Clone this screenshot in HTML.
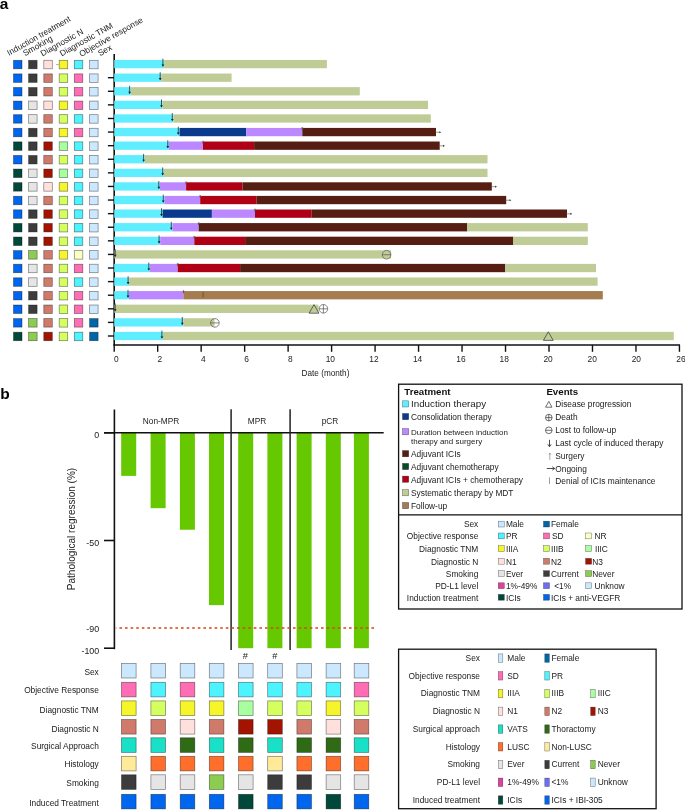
<!DOCTYPE html><html><head><meta charset="utf-8"><style>html,body{margin:0;padding:0;background:#fff;width:685px;height:810px;overflow:hidden;position:relative}</style></head><body><svg width="685" height="810" viewBox="0 0 685 810" style="position:absolute;left:0;top:0;will-change:transform">
<g style='font-family:"Liberation Sans",sans-serif'>
<text x="-0.30" y="8.80" font-size="15.5" text-anchor="start" font-weight="bold" fill="#000" >a</text>
<text x="9.00" y="56.00" font-size="8.4" text-anchor="start" font-weight="normal" fill="#1a1a1a" transform="rotate(-29.5 9.0 56.0)">Induction treatment</text>
<text x="25.00" y="56.30" font-size="8.4" text-anchor="start" font-weight="normal" fill="#1a1a1a" transform="rotate(-29.5 25.0 56.3)">Smoking</text>
<text x="42.60" y="56.60" font-size="8.4" text-anchor="start" font-weight="normal" fill="#1a1a1a" transform="rotate(-29.5 42.6 56.6)">Diagnostic N</text>
<text x="61.80" y="56.60" font-size="8.4" text-anchor="start" font-weight="normal" fill="#1a1a1a" transform="rotate(-29.5 61.8 56.6)">Diagnostic TNM</text>
<text x="81.20" y="57.00" font-size="8.4" text-anchor="start" font-weight="normal" fill="#1a1a1a" transform="rotate(-29.5 81.2 57.0)">Objective response</text>
<text x="100.00" y="56.20" font-size="8.4" text-anchor="start" font-weight="normal" fill="#1a1a1a" transform="rotate(-29.5 100 56.2)">Sex</text>
<rect x="13.50" y="60.30" width="8.50" height="8.50" fill="#0066EE" stroke="rgba(0,0,0,0.5)" stroke-width="0.7"/>
<rect x="28.60" y="60.30" width="8.50" height="8.50" fill="#3C3C3C" stroke="rgba(0,0,0,0.5)" stroke-width="0.7"/>
<rect x="43.80" y="60.30" width="8.50" height="8.50" fill="#FFE0DC" stroke="rgba(0,0,0,0.5)" stroke-width="0.7"/>
<rect x="59.20" y="60.30" width="8.50" height="8.50" fill="#F5F52A" stroke="rgba(0,0,0,0.5)" stroke-width="0.7"/>
<rect x="74.30" y="60.30" width="8.50" height="8.50" fill="#4DF4FF" stroke="rgba(0,0,0,0.5)" stroke-width="0.7"/>
<rect x="89.60" y="60.30" width="8.50" height="8.50" fill="#CCE8FF" stroke="rgba(0,0,0,0.5)" stroke-width="0.7"/>
<rect x="13.50" y="73.89" width="8.50" height="8.50" fill="#0066EE" stroke="rgba(0,0,0,0.5)" stroke-width="0.7"/>
<rect x="28.60" y="73.89" width="8.50" height="8.50" fill="#3C3C3C" stroke="rgba(0,0,0,0.5)" stroke-width="0.7"/>
<rect x="43.80" y="73.89" width="8.50" height="8.50" fill="#D07A6C" stroke="rgba(0,0,0,0.5)" stroke-width="0.7"/>
<rect x="59.20" y="73.89" width="8.50" height="8.50" fill="#D4FF5E" stroke="rgba(0,0,0,0.5)" stroke-width="0.7"/>
<rect x="74.30" y="73.89" width="8.50" height="8.50" fill="#FF6EB4" stroke="rgba(0,0,0,0.5)" stroke-width="0.7"/>
<rect x="89.60" y="73.89" width="8.50" height="8.50" fill="#CCE8FF" stroke="rgba(0,0,0,0.5)" stroke-width="0.7"/>
<rect x="13.50" y="87.49" width="8.50" height="8.50" fill="#0066EE" stroke="rgba(0,0,0,0.5)" stroke-width="0.7"/>
<rect x="28.60" y="87.49" width="8.50" height="8.50" fill="#3C3C3C" stroke="rgba(0,0,0,0.5)" stroke-width="0.7"/>
<rect x="43.80" y="87.49" width="8.50" height="8.50" fill="#D07A6C" stroke="rgba(0,0,0,0.5)" stroke-width="0.7"/>
<rect x="59.20" y="87.49" width="8.50" height="8.50" fill="#D4FF5E" stroke="rgba(0,0,0,0.5)" stroke-width="0.7"/>
<rect x="74.30" y="87.49" width="8.50" height="8.50" fill="#FF6EB4" stroke="rgba(0,0,0,0.5)" stroke-width="0.7"/>
<rect x="89.60" y="87.49" width="8.50" height="8.50" fill="#CCE8FF" stroke="rgba(0,0,0,0.5)" stroke-width="0.7"/>
<rect x="13.50" y="101.08" width="8.50" height="8.50" fill="#0066EE" stroke="rgba(0,0,0,0.5)" stroke-width="0.7"/>
<rect x="28.60" y="101.08" width="8.50" height="8.50" fill="#E5E5E5" stroke="rgba(0,0,0,0.5)" stroke-width="0.7"/>
<rect x="43.80" y="101.08" width="8.50" height="8.50" fill="#FFE0DC" stroke="rgba(0,0,0,0.5)" stroke-width="0.7"/>
<rect x="59.20" y="101.08" width="8.50" height="8.50" fill="#F5F52A" stroke="rgba(0,0,0,0.5)" stroke-width="0.7"/>
<rect x="74.30" y="101.08" width="8.50" height="8.50" fill="#FF6EB4" stroke="rgba(0,0,0,0.5)" stroke-width="0.7"/>
<rect x="89.60" y="101.08" width="8.50" height="8.50" fill="#CCE8FF" stroke="rgba(0,0,0,0.5)" stroke-width="0.7"/>
<rect x="13.50" y="114.68" width="8.50" height="8.50" fill="#0066EE" stroke="rgba(0,0,0,0.5)" stroke-width="0.7"/>
<rect x="28.60" y="114.68" width="8.50" height="8.50" fill="#E5E5E5" stroke="rgba(0,0,0,0.5)" stroke-width="0.7"/>
<rect x="43.80" y="114.68" width="8.50" height="8.50" fill="#D07A6C" stroke="rgba(0,0,0,0.5)" stroke-width="0.7"/>
<rect x="59.20" y="114.68" width="8.50" height="8.50" fill="#D4FF5E" stroke="rgba(0,0,0,0.5)" stroke-width="0.7"/>
<rect x="74.30" y="114.68" width="8.50" height="8.50" fill="#4DF4FF" stroke="rgba(0,0,0,0.5)" stroke-width="0.7"/>
<rect x="89.60" y="114.68" width="8.50" height="8.50" fill="#CCE8FF" stroke="rgba(0,0,0,0.5)" stroke-width="0.7"/>
<rect x="13.50" y="128.27" width="8.50" height="8.50" fill="#0066EE" stroke="rgba(0,0,0,0.5)" stroke-width="0.7"/>
<rect x="28.60" y="128.27" width="8.50" height="8.50" fill="#3C3C3C" stroke="rgba(0,0,0,0.5)" stroke-width="0.7"/>
<rect x="43.80" y="128.27" width="8.50" height="8.50" fill="#D07A6C" stroke="rgba(0,0,0,0.5)" stroke-width="0.7"/>
<rect x="59.20" y="128.27" width="8.50" height="8.50" fill="#F5F52A" stroke="rgba(0,0,0,0.5)" stroke-width="0.7"/>
<rect x="74.30" y="128.27" width="8.50" height="8.50" fill="#FF6EB4" stroke="rgba(0,0,0,0.5)" stroke-width="0.7"/>
<rect x="89.60" y="128.27" width="8.50" height="8.50" fill="#CCE8FF" stroke="rgba(0,0,0,0.5)" stroke-width="0.7"/>
<rect x="13.50" y="141.87" width="8.50" height="8.50" fill="#00483A" stroke="rgba(0,0,0,0.5)" stroke-width="0.7"/>
<rect x="28.60" y="141.87" width="8.50" height="8.50" fill="#3C3C3C" stroke="rgba(0,0,0,0.5)" stroke-width="0.7"/>
<rect x="43.80" y="141.87" width="8.50" height="8.50" fill="#A31400" stroke="rgba(0,0,0,0.5)" stroke-width="0.7"/>
<rect x="59.20" y="141.87" width="8.50" height="8.50" fill="#A8FF9F" stroke="rgba(0,0,0,0.5)" stroke-width="0.7"/>
<rect x="74.30" y="141.87" width="8.50" height="8.50" fill="#4DF4FF" stroke="rgba(0,0,0,0.5)" stroke-width="0.7"/>
<rect x="89.60" y="141.87" width="8.50" height="8.50" fill="#CCE8FF" stroke="rgba(0,0,0,0.5)" stroke-width="0.7"/>
<rect x="13.50" y="155.46" width="8.50" height="8.50" fill="#0066EE" stroke="rgba(0,0,0,0.5)" stroke-width="0.7"/>
<rect x="28.60" y="155.46" width="8.50" height="8.50" fill="#3C3C3C" stroke="rgba(0,0,0,0.5)" stroke-width="0.7"/>
<rect x="43.80" y="155.46" width="8.50" height="8.50" fill="#D07A6C" stroke="rgba(0,0,0,0.5)" stroke-width="0.7"/>
<rect x="59.20" y="155.46" width="8.50" height="8.50" fill="#D4FF5E" stroke="rgba(0,0,0,0.5)" stroke-width="0.7"/>
<rect x="74.30" y="155.46" width="8.50" height="8.50" fill="#4DF4FF" stroke="rgba(0,0,0,0.5)" stroke-width="0.7"/>
<rect x="89.60" y="155.46" width="8.50" height="8.50" fill="#CCE8FF" stroke="rgba(0,0,0,0.5)" stroke-width="0.7"/>
<rect x="13.50" y="169.06" width="8.50" height="8.50" fill="#00483A" stroke="rgba(0,0,0,0.5)" stroke-width="0.7"/>
<rect x="28.60" y="169.06" width="8.50" height="8.50" fill="#E5E5E5" stroke="rgba(0,0,0,0.5)" stroke-width="0.7"/>
<rect x="43.80" y="169.06" width="8.50" height="8.50" fill="#A31400" stroke="rgba(0,0,0,0.5)" stroke-width="0.7"/>
<rect x="59.20" y="169.06" width="8.50" height="8.50" fill="#A8FF9F" stroke="rgba(0,0,0,0.5)" stroke-width="0.7"/>
<rect x="74.30" y="169.06" width="8.50" height="8.50" fill="#4DF4FF" stroke="rgba(0,0,0,0.5)" stroke-width="0.7"/>
<rect x="89.60" y="169.06" width="8.50" height="8.50" fill="#CCE8FF" stroke="rgba(0,0,0,0.5)" stroke-width="0.7"/>
<rect x="13.50" y="182.65" width="8.50" height="8.50" fill="#00483A" stroke="rgba(0,0,0,0.5)" stroke-width="0.7"/>
<rect x="28.60" y="182.65" width="8.50" height="8.50" fill="#E5E5E5" stroke="rgba(0,0,0,0.5)" stroke-width="0.7"/>
<rect x="43.80" y="182.65" width="8.50" height="8.50" fill="#FFE0DC" stroke="rgba(0,0,0,0.5)" stroke-width="0.7"/>
<rect x="59.20" y="182.65" width="8.50" height="8.50" fill="#F5F52A" stroke="rgba(0,0,0,0.5)" stroke-width="0.7"/>
<rect x="74.30" y="182.65" width="8.50" height="8.50" fill="#4DF4FF" stroke="rgba(0,0,0,0.5)" stroke-width="0.7"/>
<rect x="89.60" y="182.65" width="8.50" height="8.50" fill="#CCE8FF" stroke="rgba(0,0,0,0.5)" stroke-width="0.7"/>
<rect x="13.50" y="196.25" width="8.50" height="8.50" fill="#0066EE" stroke="rgba(0,0,0,0.5)" stroke-width="0.7"/>
<rect x="28.60" y="196.25" width="8.50" height="8.50" fill="#E5E5E5" stroke="rgba(0,0,0,0.5)" stroke-width="0.7"/>
<rect x="43.80" y="196.25" width="8.50" height="8.50" fill="#D07A6C" stroke="rgba(0,0,0,0.5)" stroke-width="0.7"/>
<rect x="59.20" y="196.25" width="8.50" height="8.50" fill="#D4FF5E" stroke="rgba(0,0,0,0.5)" stroke-width="0.7"/>
<rect x="74.30" y="196.25" width="8.50" height="8.50" fill="#4DF4FF" stroke="rgba(0,0,0,0.5)" stroke-width="0.7"/>
<rect x="89.60" y="196.25" width="8.50" height="8.50" fill="#CCE8FF" stroke="rgba(0,0,0,0.5)" stroke-width="0.7"/>
<rect x="13.50" y="209.84" width="8.50" height="8.50" fill="#0066EE" stroke="rgba(0,0,0,0.5)" stroke-width="0.7"/>
<rect x="28.60" y="209.84" width="8.50" height="8.50" fill="#3C3C3C" stroke="rgba(0,0,0,0.5)" stroke-width="0.7"/>
<rect x="43.80" y="209.84" width="8.50" height="8.50" fill="#A31400" stroke="rgba(0,0,0,0.5)" stroke-width="0.7"/>
<rect x="59.20" y="209.84" width="8.50" height="8.50" fill="#D4FF5E" stroke="rgba(0,0,0,0.5)" stroke-width="0.7"/>
<rect x="74.30" y="209.84" width="8.50" height="8.50" fill="#4DF4FF" stroke="rgba(0,0,0,0.5)" stroke-width="0.7"/>
<rect x="89.60" y="209.84" width="8.50" height="8.50" fill="#CCE8FF" stroke="rgba(0,0,0,0.5)" stroke-width="0.7"/>
<rect x="13.50" y="223.44" width="8.50" height="8.50" fill="#00483A" stroke="rgba(0,0,0,0.5)" stroke-width="0.7"/>
<rect x="28.60" y="223.44" width="8.50" height="8.50" fill="#3C3C3C" stroke="rgba(0,0,0,0.5)" stroke-width="0.7"/>
<rect x="43.80" y="223.44" width="8.50" height="8.50" fill="#A31400" stroke="rgba(0,0,0,0.5)" stroke-width="0.7"/>
<rect x="59.20" y="223.44" width="8.50" height="8.50" fill="#D4FF5E" stroke="rgba(0,0,0,0.5)" stroke-width="0.7"/>
<rect x="74.30" y="223.44" width="8.50" height="8.50" fill="#4DF4FF" stroke="rgba(0,0,0,0.5)" stroke-width="0.7"/>
<rect x="89.60" y="223.44" width="8.50" height="8.50" fill="#CCE8FF" stroke="rgba(0,0,0,0.5)" stroke-width="0.7"/>
<rect x="13.50" y="237.03" width="8.50" height="8.50" fill="#00483A" stroke="rgba(0,0,0,0.5)" stroke-width="0.7"/>
<rect x="28.60" y="237.03" width="8.50" height="8.50" fill="#3C3C3C" stroke="rgba(0,0,0,0.5)" stroke-width="0.7"/>
<rect x="43.80" y="237.03" width="8.50" height="8.50" fill="#A31400" stroke="rgba(0,0,0,0.5)" stroke-width="0.7"/>
<rect x="59.20" y="237.03" width="8.50" height="8.50" fill="#D4FF5E" stroke="rgba(0,0,0,0.5)" stroke-width="0.7"/>
<rect x="74.30" y="237.03" width="8.50" height="8.50" fill="#4DF4FF" stroke="rgba(0,0,0,0.5)" stroke-width="0.7"/>
<rect x="89.60" y="237.03" width="8.50" height="8.50" fill="#CCE8FF" stroke="rgba(0,0,0,0.5)" stroke-width="0.7"/>
<rect x="13.50" y="250.63" width="8.50" height="8.50" fill="#0066EE" stroke="rgba(0,0,0,0.5)" stroke-width="0.7"/>
<rect x="28.60" y="250.63" width="8.50" height="8.50" fill="#8CCC50" stroke="rgba(0,0,0,0.5)" stroke-width="0.7"/>
<rect x="43.80" y="250.63" width="8.50" height="8.50" fill="#D07A6C" stroke="rgba(0,0,0,0.5)" stroke-width="0.7"/>
<rect x="59.20" y="250.63" width="8.50" height="8.50" fill="#F5F52A" stroke="rgba(0,0,0,0.5)" stroke-width="0.7"/>
<rect x="74.30" y="250.63" width="8.50" height="8.50" fill="#FBFFC0" stroke="rgba(0,0,0,0.5)" stroke-width="0.7"/>
<rect x="89.60" y="250.63" width="8.50" height="8.50" fill="#CCE8FF" stroke="rgba(0,0,0,0.5)" stroke-width="0.7"/>
<rect x="13.50" y="264.22" width="8.50" height="8.50" fill="#0066EE" stroke="rgba(0,0,0,0.5)" stroke-width="0.7"/>
<rect x="28.60" y="264.22" width="8.50" height="8.50" fill="#E5E5E5" stroke="rgba(0,0,0,0.5)" stroke-width="0.7"/>
<rect x="43.80" y="264.22" width="8.50" height="8.50" fill="#D07A6C" stroke="rgba(0,0,0,0.5)" stroke-width="0.7"/>
<rect x="59.20" y="264.22" width="8.50" height="8.50" fill="#D4FF5E" stroke="rgba(0,0,0,0.5)" stroke-width="0.7"/>
<rect x="74.30" y="264.22" width="8.50" height="8.50" fill="#FF6EB4" stroke="rgba(0,0,0,0.5)" stroke-width="0.7"/>
<rect x="89.60" y="264.22" width="8.50" height="8.50" fill="#CCE8FF" stroke="rgba(0,0,0,0.5)" stroke-width="0.7"/>
<rect x="13.50" y="277.82" width="8.50" height="8.50" fill="#0066EE" stroke="rgba(0,0,0,0.5)" stroke-width="0.7"/>
<rect x="28.60" y="277.82" width="8.50" height="8.50" fill="#E5E5E5" stroke="rgba(0,0,0,0.5)" stroke-width="0.7"/>
<rect x="43.80" y="277.82" width="8.50" height="8.50" fill="#D07A6C" stroke="rgba(0,0,0,0.5)" stroke-width="0.7"/>
<rect x="59.20" y="277.82" width="8.50" height="8.50" fill="#D4FF5E" stroke="rgba(0,0,0,0.5)" stroke-width="0.7"/>
<rect x="74.30" y="277.82" width="8.50" height="8.50" fill="#4DF4FF" stroke="rgba(0,0,0,0.5)" stroke-width="0.7"/>
<rect x="89.60" y="277.82" width="8.50" height="8.50" fill="#CCE8FF" stroke="rgba(0,0,0,0.5)" stroke-width="0.7"/>
<rect x="13.50" y="291.42" width="8.50" height="8.50" fill="#0066EE" stroke="rgba(0,0,0,0.5)" stroke-width="0.7"/>
<rect x="28.60" y="291.42" width="8.50" height="8.50" fill="#3C3C3C" stroke="rgba(0,0,0,0.5)" stroke-width="0.7"/>
<rect x="43.80" y="291.42" width="8.50" height="8.50" fill="#D07A6C" stroke="rgba(0,0,0,0.5)" stroke-width="0.7"/>
<rect x="59.20" y="291.42" width="8.50" height="8.50" fill="#D4FF5E" stroke="rgba(0,0,0,0.5)" stroke-width="0.7"/>
<rect x="74.30" y="291.42" width="8.50" height="8.50" fill="#FF6EB4" stroke="rgba(0,0,0,0.5)" stroke-width="0.7"/>
<rect x="89.60" y="291.42" width="8.50" height="8.50" fill="#CCE8FF" stroke="rgba(0,0,0,0.5)" stroke-width="0.7"/>
<rect x="13.50" y="305.01" width="8.50" height="8.50" fill="#0066EE" stroke="rgba(0,0,0,0.5)" stroke-width="0.7"/>
<rect x="28.60" y="305.01" width="8.50" height="8.50" fill="#3C3C3C" stroke="rgba(0,0,0,0.5)" stroke-width="0.7"/>
<rect x="43.80" y="305.01" width="8.50" height="8.50" fill="#D07A6C" stroke="rgba(0,0,0,0.5)" stroke-width="0.7"/>
<rect x="59.20" y="305.01" width="8.50" height="8.50" fill="#D4FF5E" stroke="rgba(0,0,0,0.5)" stroke-width="0.7"/>
<rect x="74.30" y="305.01" width="8.50" height="8.50" fill="#FF6EB4" stroke="rgba(0,0,0,0.5)" stroke-width="0.7"/>
<rect x="89.60" y="305.01" width="8.50" height="8.50" fill="#CCE8FF" stroke="rgba(0,0,0,0.5)" stroke-width="0.7"/>
<rect x="13.50" y="318.60" width="8.50" height="8.50" fill="#0066EE" stroke="rgba(0,0,0,0.5)" stroke-width="0.7"/>
<rect x="28.60" y="318.60" width="8.50" height="8.50" fill="#8CCC50" stroke="rgba(0,0,0,0.5)" stroke-width="0.7"/>
<rect x="43.80" y="318.60" width="8.50" height="8.50" fill="#D07A6C" stroke="rgba(0,0,0,0.5)" stroke-width="0.7"/>
<rect x="59.20" y="318.60" width="8.50" height="8.50" fill="#D4FF5E" stroke="rgba(0,0,0,0.5)" stroke-width="0.7"/>
<rect x="74.30" y="318.60" width="8.50" height="8.50" fill="#FF6EB4" stroke="rgba(0,0,0,0.5)" stroke-width="0.7"/>
<rect x="89.60" y="318.60" width="8.50" height="8.50" fill="#0066AA" stroke="rgba(0,0,0,0.5)" stroke-width="0.7"/>
<rect x="13.50" y="332.20" width="8.50" height="8.50" fill="#00483A" stroke="rgba(0,0,0,0.5)" stroke-width="0.7"/>
<rect x="28.60" y="332.20" width="8.50" height="8.50" fill="#8CCC50" stroke="rgba(0,0,0,0.5)" stroke-width="0.7"/>
<rect x="43.80" y="332.20" width="8.50" height="8.50" fill="#A31400" stroke="rgba(0,0,0,0.5)" stroke-width="0.7"/>
<rect x="59.20" y="332.20" width="8.50" height="8.50" fill="#D4FF5E" stroke="rgba(0,0,0,0.5)" stroke-width="0.7"/>
<rect x="74.30" y="332.20" width="8.50" height="8.50" fill="#4DF4FF" stroke="rgba(0,0,0,0.5)" stroke-width="0.7"/>
<rect x="89.60" y="332.20" width="8.50" height="8.50" fill="#0066AA" stroke="rgba(0,0,0,0.5)" stroke-width="0.7"/>
<line x1="56.00" y1="64.60" x2="58.80" y2="64.60" stroke="#888" stroke-width="0.7"/>
<line x1="114.20" y1="54.00" x2="114.20" y2="345.60" stroke="#111" stroke-width="1.6"/>
<line x1="113.40" y1="345.00" x2="680.00" y2="345.00" stroke="#111" stroke-width="1.6"/>
<line x1="107.90" y1="77.69" x2="114.20" y2="77.69" stroke="#111" stroke-width="1.4"/>
<line x1="107.90" y1="91.29" x2="114.20" y2="91.29" stroke="#111" stroke-width="1.4"/>
<line x1="107.90" y1="104.88" x2="114.20" y2="104.88" stroke="#111" stroke-width="1.4"/>
<line x1="107.90" y1="118.48" x2="114.20" y2="118.48" stroke="#111" stroke-width="1.4"/>
<line x1="107.90" y1="132.07" x2="114.20" y2="132.07" stroke="#111" stroke-width="1.4"/>
<line x1="107.90" y1="145.67" x2="114.20" y2="145.67" stroke="#111" stroke-width="1.4"/>
<line x1="107.90" y1="159.26" x2="114.20" y2="159.26" stroke="#111" stroke-width="1.4"/>
<line x1="107.90" y1="172.86" x2="114.20" y2="172.86" stroke="#111" stroke-width="1.4"/>
<line x1="107.90" y1="186.45" x2="114.20" y2="186.45" stroke="#111" stroke-width="1.4"/>
<line x1="107.90" y1="200.05" x2="114.20" y2="200.05" stroke="#111" stroke-width="1.4"/>
<line x1="107.90" y1="213.65" x2="114.20" y2="213.65" stroke="#111" stroke-width="1.4"/>
<line x1="107.90" y1="227.24" x2="114.20" y2="227.24" stroke="#111" stroke-width="1.4"/>
<line x1="107.90" y1="240.84" x2="114.20" y2="240.84" stroke="#111" stroke-width="1.4"/>
<line x1="107.90" y1="254.43" x2="114.20" y2="254.43" stroke="#111" stroke-width="1.4"/>
<line x1="107.90" y1="268.02" x2="114.20" y2="268.02" stroke="#111" stroke-width="1.4"/>
<line x1="107.90" y1="281.62" x2="114.20" y2="281.62" stroke="#111" stroke-width="1.4"/>
<line x1="107.90" y1="295.22" x2="114.20" y2="295.22" stroke="#111" stroke-width="1.4"/>
<line x1="107.90" y1="308.81" x2="114.20" y2="308.81" stroke="#111" stroke-width="1.4"/>
<line x1="107.90" y1="322.40" x2="114.20" y2="322.40" stroke="#111" stroke-width="1.4"/>
<line x1="107.90" y1="336.00" x2="114.20" y2="336.00" stroke="#111" stroke-width="1.4"/>
<line x1="114.20" y1="345.00" x2="114.20" y2="351.80" stroke="#111" stroke-width="1.4"/>
<text x="116.30" y="362.20" font-size="8.4" text-anchor="middle" font-weight="normal" fill="#222" >0</text>
<line x1="157.68" y1="345.00" x2="157.68" y2="351.80" stroke="#111" stroke-width="1.4"/>
<text x="159.78" y="362.20" font-size="8.4" text-anchor="middle" font-weight="normal" fill="#222" >2</text>
<line x1="201.16" y1="345.00" x2="201.16" y2="351.80" stroke="#111" stroke-width="1.4"/>
<text x="203.46" y="362.20" font-size="8.4" text-anchor="middle" font-weight="normal" fill="#222" >4</text>
<line x1="244.64" y1="345.00" x2="244.64" y2="351.80" stroke="#111" stroke-width="1.4"/>
<text x="246.64" y="362.20" font-size="8.4" text-anchor="middle" font-weight="normal" fill="#222" >6</text>
<line x1="288.12" y1="345.00" x2="288.12" y2="351.80" stroke="#111" stroke-width="1.4"/>
<text x="290.32" y="362.20" font-size="8.4" text-anchor="middle" font-weight="normal" fill="#222" >8</text>
<line x1="331.60" y1="345.00" x2="331.60" y2="351.80" stroke="#111" stroke-width="1.4"/>
<text x="330.30" y="362.20" font-size="8.4" text-anchor="middle" font-weight="normal" fill="#222" >10</text>
<line x1="375.08" y1="345.00" x2="375.08" y2="351.80" stroke="#111" stroke-width="1.4"/>
<text x="373.98" y="362.20" font-size="8.4" text-anchor="middle" font-weight="normal" fill="#222" >12</text>
<line x1="418.56" y1="345.00" x2="418.56" y2="351.80" stroke="#111" stroke-width="1.4"/>
<text x="417.56" y="362.20" font-size="8.4" text-anchor="middle" font-weight="normal" fill="#222" >14</text>
<line x1="462.04" y1="345.00" x2="462.04" y2="351.80" stroke="#111" stroke-width="1.4"/>
<text x="460.94" y="362.20" font-size="8.4" text-anchor="middle" font-weight="normal" fill="#222" >16</text>
<line x1="505.52" y1="345.00" x2="505.52" y2="351.80" stroke="#111" stroke-width="1.4"/>
<text x="504.22" y="362.20" font-size="8.4" text-anchor="middle" font-weight="normal" fill="#222" >18</text>
<line x1="549.00" y1="345.00" x2="549.00" y2="351.80" stroke="#111" stroke-width="1.4"/>
<text x="548.10" y="362.20" font-size="8.4" text-anchor="middle" font-weight="normal" fill="#222" >20</text>
<line x1="592.48" y1="345.00" x2="592.48" y2="351.80" stroke="#111" stroke-width="1.4"/>
<text x="592.18" y="362.20" font-size="8.4" text-anchor="middle" font-weight="normal" fill="#222" >20</text>
<line x1="635.96" y1="345.00" x2="635.96" y2="351.80" stroke="#111" stroke-width="1.4"/>
<text x="636.36" y="362.20" font-size="8.4" text-anchor="middle" font-weight="normal" fill="#222" >20</text>
<line x1="679.44" y1="345.00" x2="679.44" y2="351.80" stroke="#111" stroke-width="1.4"/>
<text x="680.94" y="362.20" font-size="8.4" text-anchor="middle" font-weight="normal" fill="#222" >26</text>
<text x="325.50" y="375.70" font-size="8.2" text-anchor="middle" font-weight="normal" fill="#222" >Date (month)</text>
<rect x="114.20" y="59.95" width="49.90" height="8.30" fill="#5EEEFF"/>
<rect x="164.10" y="59.95" width="162.80" height="8.30" fill="#BFCC96"/>
<rect x="114.20" y="73.54" width="47.10" height="8.30" fill="#5EEEFF"/>
<rect x="161.30" y="73.54" width="70.30" height="8.30" fill="#BFCC96"/>
<rect x="114.20" y="87.14" width="16.60" height="8.30" fill="#5EEEFF"/>
<rect x="130.80" y="87.14" width="229.00" height="8.30" fill="#BFCC96"/>
<rect x="114.20" y="100.73" width="48.40" height="8.30" fill="#5EEEFF"/>
<rect x="162.60" y="100.73" width="265.40" height="8.30" fill="#BFCC96"/>
<rect x="114.20" y="114.33" width="59.30" height="8.30" fill="#5EEEFF"/>
<rect x="173.50" y="114.33" width="257.30" height="8.30" fill="#BFCC96"/>
<rect x="114.20" y="127.92" width="65.40" height="8.30" fill="#5EEEFF"/>
<rect x="179.60" y="127.92" width="66.60" height="8.30" fill="#0A3A8E"/>
<rect x="246.20" y="127.92" width="56.10" height="8.30" fill="#BB88FF"/>
<rect x="302.30" y="127.92" width="133.70" height="8.30" fill="#561D12"/>
<rect x="114.20" y="141.52" width="54.80" height="8.30" fill="#5EEEFF"/>
<rect x="169.00" y="141.52" width="34.00" height="8.30" fill="#BB88FF"/>
<rect x="203.00" y="141.52" width="51.10" height="8.30" fill="#B00015"/>
<rect x="254.10" y="141.52" width="185.60" height="8.30" fill="#561D12"/>
<rect x="114.20" y="155.11" width="30.50" height="8.30" fill="#5EEEFF"/>
<rect x="144.70" y="155.11" width="342.80" height="8.30" fill="#BFCC96"/>
<rect x="114.20" y="168.71" width="49.60" height="8.30" fill="#5EEEFF"/>
<rect x="163.80" y="168.71" width="323.70" height="8.30" fill="#BFCC96"/>
<rect x="114.20" y="182.30" width="45.70" height="8.30" fill="#5EEEFF"/>
<rect x="159.90" y="182.30" width="26.20" height="8.30" fill="#BB88FF"/>
<rect x="186.10" y="182.30" width="56.40" height="8.30" fill="#B00015"/>
<rect x="242.50" y="182.30" width="249.30" height="8.30" fill="#561D12"/>
<rect x="114.20" y="195.90" width="50.20" height="8.30" fill="#5EEEFF"/>
<rect x="164.40" y="195.90" width="35.80" height="8.30" fill="#BB88FF"/>
<rect x="200.20" y="195.90" width="56.50" height="8.30" fill="#B00015"/>
<rect x="256.70" y="195.90" width="249.50" height="8.30" fill="#561D12"/>
<rect x="114.20" y="209.50" width="48.40" height="8.30" fill="#5EEEFF"/>
<rect x="162.60" y="209.50" width="49.30" height="8.30" fill="#0A3A8E"/>
<rect x="211.90" y="209.50" width="43.10" height="8.30" fill="#BB88FF"/>
<rect x="255.00" y="209.50" width="56.70" height="8.30" fill="#B00015"/>
<rect x="311.70" y="209.50" width="255.30" height="8.30" fill="#561D12"/>
<rect x="114.20" y="223.09" width="58.20" height="8.30" fill="#5EEEFF"/>
<rect x="172.40" y="223.09" width="26.30" height="8.30" fill="#BB88FF"/>
<rect x="198.70" y="223.09" width="268.60" height="8.30" fill="#561D12"/>
<rect x="467.30" y="223.09" width="120.50" height="8.30" fill="#BFCC96"/>
<rect x="114.20" y="236.69" width="46.00" height="8.30" fill="#5EEEFF"/>
<rect x="160.20" y="236.69" width="34.10" height="8.30" fill="#BB88FF"/>
<rect x="194.30" y="236.69" width="50.80" height="8.30" fill="#B00015"/>
<rect x="245.10" y="236.69" width="268.20" height="8.30" fill="#561D12"/>
<rect x="513.30" y="236.69" width="74.50" height="8.30" fill="#BFCC96"/>
<rect x="114.20" y="250.28" width="0.30" height="8.30" fill="#5EEEFF"/>
<rect x="114.50" y="250.28" width="276.50" height="8.30" fill="#BFCC96"/>
<rect x="114.20" y="263.88" width="35.70" height="8.30" fill="#5EEEFF"/>
<rect x="149.90" y="263.88" width="27.80" height="8.30" fill="#BB88FF"/>
<rect x="177.70" y="263.88" width="62.40" height="8.30" fill="#B00015"/>
<rect x="240.10" y="263.88" width="265.20" height="8.30" fill="#561D12"/>
<rect x="505.30" y="263.88" width="90.70" height="8.30" fill="#BFCC96"/>
<rect x="114.20" y="277.47" width="14.90" height="8.30" fill="#5EEEFF"/>
<rect x="129.10" y="277.47" width="468.50" height="8.30" fill="#BFCC96"/>
<rect x="114.20" y="291.07" width="14.80" height="8.30" fill="#5EEEFF"/>
<rect x="129.00" y="291.07" width="54.40" height="8.30" fill="#BB88FF"/>
<rect x="183.40" y="291.07" width="419.40" height="8.30" fill="#A57B50"/>
<rect x="114.20" y="304.66" width="0.30" height="8.30" fill="#5EEEFF"/>
<rect x="114.50" y="304.66" width="204.00" height="8.30" fill="#BFCC96"/>
<rect x="114.20" y="318.25" width="69.20" height="8.30" fill="#5EEEFF"/>
<rect x="183.40" y="318.25" width="31.10" height="8.30" fill="#BFCC96"/>
<rect x="114.20" y="331.85" width="48.80" height="8.30" fill="#5EEEFF"/>
<rect x="163.00" y="331.85" width="510.80" height="8.30" fill="#BFCC96"/>
<path d="M162.90 58.70 V66.10" stroke="#222" stroke-width="0.75"/>
<path d="M161.50 64.50 L162.90 66.70 L164.30 64.50 Z" fill="#222"/>
<path d="M160.20 72.29 V79.69" stroke="#222" stroke-width="0.75"/>
<path d="M158.80 78.09 L160.20 80.29 L161.60 78.09 Z" fill="#222"/>
<path d="M129.60 85.89 V93.29" stroke="#222" stroke-width="0.75"/>
<path d="M128.20 91.69 L129.60 93.89 L131.00 91.69 Z" fill="#222"/>
<path d="M161.50 99.48 V106.88" stroke="#222" stroke-width="0.75"/>
<path d="M160.10 105.28 L161.50 107.48 L162.90 105.28 Z" fill="#222"/>
<path d="M172.30 113.08 V120.48" stroke="#222" stroke-width="0.75"/>
<path d="M170.90 118.88 L172.30 121.08 L173.70 118.88 Z" fill="#222"/>
<path d="M178.30 126.67 V134.07" stroke="#222" stroke-width="0.75"/>
<path d="M176.90 132.47 L178.30 134.67 L179.70 132.47 Z" fill="#222"/>
<path d="M167.80 140.27 V147.67" stroke="#222" stroke-width="0.75"/>
<path d="M166.40 146.07 L167.80 148.27 L169.20 146.07 Z" fill="#222"/>
<path d="M143.60 153.86 V161.26" stroke="#222" stroke-width="0.75"/>
<path d="M142.20 159.66 L143.60 161.86 L145.00 159.66 Z" fill="#222"/>
<path d="M162.70 167.46 V174.86" stroke="#222" stroke-width="0.75"/>
<path d="M161.30 173.26 L162.70 175.46 L164.10 173.26 Z" fill="#222"/>
<path d="M158.80 181.05 V188.45" stroke="#222" stroke-width="0.75"/>
<path d="M157.40 186.85 L158.80 189.05 L160.20 186.85 Z" fill="#222"/>
<path d="M163.30 194.65 V202.05" stroke="#222" stroke-width="0.75"/>
<path d="M161.90 200.45 L163.30 202.65 L164.70 200.45 Z" fill="#222"/>
<path d="M161.50 208.25 V215.65" stroke="#222" stroke-width="0.75"/>
<path d="M160.10 214.05 L161.50 216.25 L162.90 214.05 Z" fill="#222"/>
<path d="M171.30 221.84 V229.24" stroke="#222" stroke-width="0.75"/>
<path d="M169.90 227.64 L171.30 229.84 L172.70 227.64 Z" fill="#222"/>
<path d="M159.10 235.44 V242.84" stroke="#222" stroke-width="0.75"/>
<path d="M157.70 241.24 L159.10 243.44 L160.50 241.24 Z" fill="#222"/>
<path d="M115.20 249.03 V256.43" stroke="#222" stroke-width="0.75"/>
<path d="M113.80 254.83 L115.20 257.03 L116.60 254.83 Z" fill="#222"/>
<path d="M148.80 262.62 V270.02" stroke="#222" stroke-width="0.75"/>
<path d="M147.40 268.42 L148.80 270.62 L150.20 268.42 Z" fill="#222"/>
<path d="M128.10 276.22 V283.62" stroke="#222" stroke-width="0.75"/>
<path d="M126.70 282.02 L128.10 284.22 L129.50 282.02 Z" fill="#222"/>
<path d="M128.00 289.82 V297.22" stroke="#222" stroke-width="0.75"/>
<path d="M126.60 295.62 L128.00 297.82 L129.40 295.62 Z" fill="#222"/>
<path d="M115.20 303.41 V310.81" stroke="#222" stroke-width="0.75"/>
<path d="M113.80 309.21 L115.20 311.41 L116.60 309.21 Z" fill="#222"/>
<path d="M182.30 317.00 V324.40" stroke="#222" stroke-width="0.75"/>
<path d="M180.90 322.80 L182.30 325.00 L183.70 322.80 Z" fill="#222"/>
<path d="M161.90 330.60 V338.00" stroke="#222" stroke-width="0.75"/>
<path d="M160.50 336.40 L161.90 338.60 L163.30 336.40 Z" fill="#222"/>
<path d="M302.30 130.07 V127.47" stroke="#444" stroke-width="0.8"/>
<path d="M301.10 128.47 L302.30 127.07 L303.50 128.47" fill="none" stroke="#777" stroke-width="0.6"/>
<path d="M203.00 143.67 V141.07" stroke="#444" stroke-width="0.8"/>
<path d="M201.80 142.07 L203.00 140.67 L204.20 142.07" fill="none" stroke="#777" stroke-width="0.6"/>
<path d="M186.10 184.45 V181.85" stroke="#444" stroke-width="0.8"/>
<path d="M184.90 182.85 L186.10 181.45 L187.30 182.85" fill="none" stroke="#777" stroke-width="0.6"/>
<path d="M200.20 198.05 V195.45" stroke="#444" stroke-width="0.8"/>
<path d="M199.00 196.45 L200.20 195.05 L201.40 196.45" fill="none" stroke="#777" stroke-width="0.6"/>
<path d="M255.00 211.65 V209.05" stroke="#444" stroke-width="0.8"/>
<path d="M253.80 210.05 L255.00 208.65 L256.20 210.05" fill="none" stroke="#777" stroke-width="0.6"/>
<path d="M198.70 225.24 V222.64" stroke="#444" stroke-width="0.8"/>
<path d="M197.50 223.64 L198.70 222.24 L199.90 223.64" fill="none" stroke="#777" stroke-width="0.6"/>
<path d="M194.30 238.84 V236.24" stroke="#444" stroke-width="0.8"/>
<path d="M193.10 237.24 L194.30 235.84 L195.50 237.24" fill="none" stroke="#777" stroke-width="0.6"/>
<path d="M177.70 266.02 V263.42" stroke="#444" stroke-width="0.8"/>
<path d="M176.50 264.42 L177.70 263.02 L178.90 264.42" fill="none" stroke="#777" stroke-width="0.6"/>
<path d="M183.50 293.22 V290.62" stroke="#444" stroke-width="0.8"/>
<path d="M182.30 291.62 L183.50 290.22 L184.70 291.62" fill="none" stroke="#777" stroke-width="0.6"/>
<path d="M435.00 132.27 H440.50" stroke="#555" stroke-width="0.6"/>
<path d="M439.30 131.17 L441.10 132.27 L439.30 133.37 Z" fill="#444"/>
<path d="M438.70 145.87 H444.20" stroke="#555" stroke-width="0.6"/>
<path d="M443.00 144.77 L444.80 145.87 L443.00 146.97 Z" fill="#444"/>
<path d="M490.80 186.65 H496.30" stroke="#555" stroke-width="0.6"/>
<path d="M495.10 185.55 L496.90 186.65 L495.10 187.75 Z" fill="#444"/>
<path d="M505.20 200.25 H510.70" stroke="#555" stroke-width="0.6"/>
<path d="M509.50 199.15 L511.30 200.25 L509.50 201.35 Z" fill="#444"/>
<path d="M566.00 213.84 H571.50" stroke="#555" stroke-width="0.6"/>
<path d="M570.30 212.75 L572.10 213.84 L570.30 214.94 Z" fill="#444"/>
<path d="M203.10 291.72 V297.42" stroke="#5a4a3a" stroke-width="0.8"/>
<path d="M309.10 313.21 L314.00 304.61 L318.90 313.21 Z" fill="none" stroke="#444" stroke-width="0.8"/>
<circle cx="323.40" cy="308.81" r="4.3" fill="none" stroke="#555" stroke-width="0.7"/>
<path d="M319.10 308.81 H327.70 M323.40 304.51 V313.11" stroke="#555" stroke-width="0.7"/>
<circle cx="386.60" cy="254.73" r="4.3" fill="none" stroke="#555" stroke-width="0.7"/>
<path d="M382.30 254.73 H390.90" stroke="#555" stroke-width="0.7"/>
<circle cx="214.90" cy="322.90" r="4.3" fill="none" stroke="#555" stroke-width="0.7"/>
<path d="M210.60 322.90 H219.20" stroke="#555" stroke-width="0.7"/>
<path d="M543.40 340.40 L548.30 331.80 L553.20 340.40 Z" fill="none" stroke="#444" stroke-width="0.8"/>
<text x="0.30" y="398.70" font-size="15.5" text-anchor="start" font-weight="bold" fill="#000" >b</text>
<rect x="121.20" y="432.80" width="15.00" height="43.08" fill="#66C800"/>
<rect x="150.60" y="432.80" width="15.00" height="75.39" fill="#66C800"/>
<rect x="179.90" y="432.80" width="15.00" height="96.93" fill="#66C800"/>
<rect x="209.00" y="432.80" width="15.00" height="172.32" fill="#66C800"/>
<rect x="238.20" y="432.80" width="15.00" height="215.40" fill="#66C800"/>
<rect x="267.40" y="432.80" width="15.00" height="215.40" fill="#66C800"/>
<rect x="296.60" y="432.80" width="15.00" height="215.40" fill="#66C800"/>
<rect x="325.80" y="432.80" width="15.00" height="215.40" fill="#66C800"/>
<rect x="353.90" y="432.80" width="15.00" height="215.40" fill="#66C800"/>
<line x1="114.40" y1="409.50" x2="114.40" y2="649.20" stroke="#111" stroke-width="1.6"/>
<line x1="104.00" y1="432.80" x2="114.40" y2="432.80" stroke="#111" stroke-width="1.6"/>
<text x="99.20" y="438.20" font-size="8.9" text-anchor="end" font-weight="normal" fill="#222" >0</text>
<line x1="104.00" y1="540.50" x2="114.40" y2="540.50" stroke="#111" stroke-width="1.6"/>
<text x="99.20" y="545.90" font-size="8.9" text-anchor="end" font-weight="normal" fill="#222" >-50</text>
<text x="99.20" y="632.06" font-size="8.9" text-anchor="end" font-weight="normal" fill="#222" >-90</text>
<line x1="104.00" y1="648.20" x2="114.40" y2="648.20" stroke="#111" stroke-width="1.6"/>
<text x="99.20" y="653.60" font-size="8.9" text-anchor="end" font-weight="normal" fill="#222" >-100</text>
<line x1="104.00" y1="432.80" x2="383.70" y2="432.80" stroke="#111" stroke-width="1.6"/>
<line x1="231.10" y1="409.30" x2="231.10" y2="650.00" stroke="#222" stroke-width="1.5"/>
<line x1="290.10" y1="409.30" x2="290.10" y2="650.00" stroke="#222" stroke-width="1.5"/>
<text x="161.00" y="423.80" font-size="8.3" text-anchor="middle" font-weight="normal" fill="#222" >Non-MPR</text>
<text x="257.00" y="423.80" font-size="8.3" text-anchor="middle" font-weight="normal" fill="#222" >MPR</text>
<text x="330.00" y="423.80" font-size="8.3" text-anchor="middle" font-weight="normal" fill="#222" >pCR</text>
<line x1="115.8" y1="627.9" x2="375.2" y2="627.9" stroke="#D64515" stroke-width="1.5" stroke-dasharray="2.6 3.0" stroke-dashoffset="2.0"/>
<text x="245.30" y="658.50" font-size="9.2" text-anchor="middle" font-weight="normal" fill="#222" >#</text>
<text x="274.90" y="658.50" font-size="9.2" text-anchor="middle" font-weight="normal" fill="#222" >#</text>
<text x="0" y="0" font-size="10" text-anchor="middle" fill="#222" transform="translate(74.6 529) rotate(-90)">Pathological regression (%)</text>
<text x="98.80" y="674.90" font-size="8.35" text-anchor="end" font-weight="normal" fill="#1a1a1a" >Sex</text>
<text x="98.80" y="692.90" font-size="8.35" text-anchor="end" font-weight="normal" fill="#1a1a1a" >Objective Response</text>
<text x="98.80" y="712.60" font-size="8.35" text-anchor="end" font-weight="normal" fill="#1a1a1a" >Diagnostic TNM</text>
<text x="98.80" y="731.60" font-size="8.35" text-anchor="end" font-weight="normal" fill="#1a1a1a" >Diagnostic N</text>
<text x="98.80" y="749.30" font-size="8.35" text-anchor="end" font-weight="normal" fill="#1a1a1a" >Surgical Approach</text>
<text x="98.80" y="766.80" font-size="8.35" text-anchor="end" font-weight="normal" fill="#1a1a1a" >Histology</text>
<text x="98.80" y="785.60" font-size="8.35" text-anchor="end" font-weight="normal" fill="#1a1a1a" >Smoking</text>
<text x="98.80" y="806.00" font-size="8.35" text-anchor="end" font-weight="normal" fill="#1a1a1a" >Induced Treatment</text>
<rect x="121.50" y="663.40" width="14.60" height="14.60" fill="#CCE8FF" stroke="rgba(0,0,0,0.5)" stroke-width="0.7"/>
<rect x="121.50" y="682.30" width="14.60" height="14.60" fill="#FF6EB4" stroke="rgba(0,0,0,0.5)" stroke-width="0.7"/>
<rect x="121.50" y="700.90" width="14.60" height="14.60" fill="#F5F52A" stroke="rgba(0,0,0,0.5)" stroke-width="0.7"/>
<rect x="121.50" y="719.50" width="14.60" height="14.60" fill="#D07A6C" stroke="rgba(0,0,0,0.5)" stroke-width="0.7"/>
<rect x="121.50" y="737.80" width="14.60" height="14.60" fill="#1AE0C8" stroke="rgba(0,0,0,0.5)" stroke-width="0.7"/>
<rect x="121.50" y="756.30" width="14.60" height="14.60" fill="#FFEA99" stroke="rgba(0,0,0,0.5)" stroke-width="0.7"/>
<rect x="121.50" y="774.80" width="14.60" height="14.60" fill="#3C3C3C" stroke="rgba(0,0,0,0.5)" stroke-width="0.7"/>
<rect x="121.50" y="794.30" width="14.60" height="14.60" fill="#0066EE" stroke="rgba(0,0,0,0.5)" stroke-width="0.7"/>
<rect x="150.90" y="663.40" width="14.60" height="14.60" fill="#CCE8FF" stroke="rgba(0,0,0,0.5)" stroke-width="0.7"/>
<rect x="150.90" y="682.30" width="14.60" height="14.60" fill="#4DF4FF" stroke="rgba(0,0,0,0.5)" stroke-width="0.7"/>
<rect x="150.90" y="700.90" width="14.60" height="14.60" fill="#D4FF5E" stroke="rgba(0,0,0,0.5)" stroke-width="0.7"/>
<rect x="150.90" y="719.50" width="14.60" height="14.60" fill="#D07A6C" stroke="rgba(0,0,0,0.5)" stroke-width="0.7"/>
<rect x="150.90" y="737.80" width="14.60" height="14.60" fill="#1AE0C8" stroke="rgba(0,0,0,0.5)" stroke-width="0.7"/>
<rect x="150.90" y="756.30" width="14.60" height="14.60" fill="#FF6E2A" stroke="rgba(0,0,0,0.5)" stroke-width="0.7"/>
<rect x="150.90" y="774.80" width="14.60" height="14.60" fill="#E5E5E5" stroke="rgba(0,0,0,0.5)" stroke-width="0.7"/>
<rect x="150.90" y="794.30" width="14.60" height="14.60" fill="#0066EE" stroke="rgba(0,0,0,0.5)" stroke-width="0.7"/>
<rect x="180.20" y="663.40" width="14.60" height="14.60" fill="#CCE8FF" stroke="rgba(0,0,0,0.5)" stroke-width="0.7"/>
<rect x="180.20" y="682.30" width="14.60" height="14.60" fill="#FF6EB4" stroke="rgba(0,0,0,0.5)" stroke-width="0.7"/>
<rect x="180.20" y="700.90" width="14.60" height="14.60" fill="#F5F52A" stroke="rgba(0,0,0,0.5)" stroke-width="0.7"/>
<rect x="180.20" y="719.50" width="14.60" height="14.60" fill="#FFE0DC" stroke="rgba(0,0,0,0.5)" stroke-width="0.7"/>
<rect x="180.20" y="737.80" width="14.60" height="14.60" fill="#2E6B14" stroke="rgba(0,0,0,0.5)" stroke-width="0.7"/>
<rect x="180.20" y="756.30" width="14.60" height="14.60" fill="#FF6E2A" stroke="rgba(0,0,0,0.5)" stroke-width="0.7"/>
<rect x="180.20" y="774.80" width="14.60" height="14.60" fill="#E5E5E5" stroke="rgba(0,0,0,0.5)" stroke-width="0.7"/>
<rect x="180.20" y="794.30" width="14.60" height="14.60" fill="#0066EE" stroke="rgba(0,0,0,0.5)" stroke-width="0.7"/>
<rect x="209.30" y="663.40" width="14.60" height="14.60" fill="#CCE8FF" stroke="rgba(0,0,0,0.5)" stroke-width="0.7"/>
<rect x="209.30" y="682.30" width="14.60" height="14.60" fill="#4DF4FF" stroke="rgba(0,0,0,0.5)" stroke-width="0.7"/>
<rect x="209.30" y="700.90" width="14.60" height="14.60" fill="#F5F52A" stroke="rgba(0,0,0,0.5)" stroke-width="0.7"/>
<rect x="209.30" y="719.50" width="14.60" height="14.60" fill="#D07A6C" stroke="rgba(0,0,0,0.5)" stroke-width="0.7"/>
<rect x="209.30" y="737.80" width="14.60" height="14.60" fill="#1AE0C8" stroke="rgba(0,0,0,0.5)" stroke-width="0.7"/>
<rect x="209.30" y="756.30" width="14.60" height="14.60" fill="#FF6E2A" stroke="rgba(0,0,0,0.5)" stroke-width="0.7"/>
<rect x="209.30" y="774.80" width="14.60" height="14.60" fill="#8CCC50" stroke="rgba(0,0,0,0.5)" stroke-width="0.7"/>
<rect x="209.30" y="794.30" width="14.60" height="14.60" fill="#0066EE" stroke="rgba(0,0,0,0.5)" stroke-width="0.7"/>
<rect x="238.50" y="663.40" width="14.60" height="14.60" fill="#CCE8FF" stroke="rgba(0,0,0,0.5)" stroke-width="0.7"/>
<rect x="238.50" y="682.30" width="14.60" height="14.60" fill="#4DF4FF" stroke="rgba(0,0,0,0.5)" stroke-width="0.7"/>
<rect x="238.50" y="700.90" width="14.60" height="14.60" fill="#A8FF9F" stroke="rgba(0,0,0,0.5)" stroke-width="0.7"/>
<rect x="238.50" y="719.50" width="14.60" height="14.60" fill="#A31400" stroke="rgba(0,0,0,0.5)" stroke-width="0.7"/>
<rect x="238.50" y="737.80" width="14.60" height="14.60" fill="#2E6B14" stroke="rgba(0,0,0,0.5)" stroke-width="0.7"/>
<rect x="238.50" y="756.30" width="14.60" height="14.60" fill="#FF6E2A" stroke="rgba(0,0,0,0.5)" stroke-width="0.7"/>
<rect x="238.50" y="774.80" width="14.60" height="14.60" fill="#E5E5E5" stroke="rgba(0,0,0,0.5)" stroke-width="0.7"/>
<rect x="238.50" y="794.30" width="14.60" height="14.60" fill="#00483A" stroke="rgba(0,0,0,0.5)" stroke-width="0.7"/>
<rect x="267.70" y="663.40" width="14.60" height="14.60" fill="#CCE8FF" stroke="rgba(0,0,0,0.5)" stroke-width="0.7"/>
<rect x="267.70" y="682.30" width="14.60" height="14.60" fill="#4DF4FF" stroke="rgba(0,0,0,0.5)" stroke-width="0.7"/>
<rect x="267.70" y="700.90" width="14.60" height="14.60" fill="#D4FF5E" stroke="rgba(0,0,0,0.5)" stroke-width="0.7"/>
<rect x="267.70" y="719.50" width="14.60" height="14.60" fill="#A31400" stroke="rgba(0,0,0,0.5)" stroke-width="0.7"/>
<rect x="267.70" y="737.80" width="14.60" height="14.60" fill="#1AE0C8" stroke="rgba(0,0,0,0.5)" stroke-width="0.7"/>
<rect x="267.70" y="756.30" width="14.60" height="14.60" fill="#FFEA99" stroke="rgba(0,0,0,0.5)" stroke-width="0.7"/>
<rect x="267.70" y="774.80" width="14.60" height="14.60" fill="#3C3C3C" stroke="rgba(0,0,0,0.5)" stroke-width="0.7"/>
<rect x="267.70" y="794.30" width="14.60" height="14.60" fill="#0066EE" stroke="rgba(0,0,0,0.5)" stroke-width="0.7"/>
<rect x="296.90" y="663.40" width="14.60" height="14.60" fill="#CCE8FF" stroke="rgba(0,0,0,0.5)" stroke-width="0.7"/>
<rect x="296.90" y="682.30" width="14.60" height="14.60" fill="#4DF4FF" stroke="rgba(0,0,0,0.5)" stroke-width="0.7"/>
<rect x="296.90" y="700.90" width="14.60" height="14.60" fill="#D4FF5E" stroke="rgba(0,0,0,0.5)" stroke-width="0.7"/>
<rect x="296.90" y="719.50" width="14.60" height="14.60" fill="#D07A6C" stroke="rgba(0,0,0,0.5)" stroke-width="0.7"/>
<rect x="296.90" y="737.80" width="14.60" height="14.60" fill="#2E6B14" stroke="rgba(0,0,0,0.5)" stroke-width="0.7"/>
<rect x="296.90" y="756.30" width="14.60" height="14.60" fill="#FF6E2A" stroke="rgba(0,0,0,0.5)" stroke-width="0.7"/>
<rect x="296.90" y="774.80" width="14.60" height="14.60" fill="#3C3C3C" stroke="rgba(0,0,0,0.5)" stroke-width="0.7"/>
<rect x="296.90" y="794.30" width="14.60" height="14.60" fill="#0066EE" stroke="rgba(0,0,0,0.5)" stroke-width="0.7"/>
<rect x="326.10" y="663.40" width="14.60" height="14.60" fill="#CCE8FF" stroke="rgba(0,0,0,0.5)" stroke-width="0.7"/>
<rect x="326.10" y="682.30" width="14.60" height="14.60" fill="#4DF4FF" stroke="rgba(0,0,0,0.5)" stroke-width="0.7"/>
<rect x="326.10" y="700.90" width="14.60" height="14.60" fill="#F5F52A" stroke="rgba(0,0,0,0.5)" stroke-width="0.7"/>
<rect x="326.10" y="719.50" width="14.60" height="14.60" fill="#FFE0DC" stroke="rgba(0,0,0,0.5)" stroke-width="0.7"/>
<rect x="326.10" y="737.80" width="14.60" height="14.60" fill="#2E6B14" stroke="rgba(0,0,0,0.5)" stroke-width="0.7"/>
<rect x="326.10" y="756.30" width="14.60" height="14.60" fill="#FF6E2A" stroke="rgba(0,0,0,0.5)" stroke-width="0.7"/>
<rect x="326.10" y="774.80" width="14.60" height="14.60" fill="#E5E5E5" stroke="rgba(0,0,0,0.5)" stroke-width="0.7"/>
<rect x="326.10" y="794.30" width="14.60" height="14.60" fill="#00483A" stroke="rgba(0,0,0,0.5)" stroke-width="0.7"/>
<rect x="354.20" y="663.40" width="14.60" height="14.60" fill="#CCE8FF" stroke="rgba(0,0,0,0.5)" stroke-width="0.7"/>
<rect x="354.20" y="682.30" width="14.60" height="14.60" fill="#FF6EB4" stroke="rgba(0,0,0,0.5)" stroke-width="0.7"/>
<rect x="354.20" y="700.90" width="14.60" height="14.60" fill="#D4FF5E" stroke="rgba(0,0,0,0.5)" stroke-width="0.7"/>
<rect x="354.20" y="719.50" width="14.60" height="14.60" fill="#D07A6C" stroke="rgba(0,0,0,0.5)" stroke-width="0.7"/>
<rect x="354.20" y="737.80" width="14.60" height="14.60" fill="#1AE0C8" stroke="rgba(0,0,0,0.5)" stroke-width="0.7"/>
<rect x="354.20" y="756.30" width="14.60" height="14.60" fill="#FF6E2A" stroke="rgba(0,0,0,0.5)" stroke-width="0.7"/>
<rect x="354.20" y="774.80" width="14.60" height="14.60" fill="#E5E5E5" stroke="rgba(0,0,0,0.5)" stroke-width="0.7"/>
<rect x="354.20" y="794.30" width="14.60" height="14.60" fill="#0066EE" stroke="rgba(0,0,0,0.5)" stroke-width="0.7"/>
<rect x="398.6" y="384.2" width="283.4" height="224.8" fill="none" stroke="#111" stroke-width="1.3"/>
<line x1="398.60" y1="514.80" x2="682.00" y2="514.80" stroke="#111" stroke-width="1.3"/>
<rect x="398.6" y="649.2" width="257.5" height="159.5" fill="none" stroke="#111" stroke-width="1.3"/>
<text x="404.30" y="395.30" font-size="9.7" text-anchor="start" font-weight="bold" fill="#111" >Treatment</text>
<text x="546.40" y="395.20" font-size="9.7" text-anchor="start" font-weight="bold" fill="#111" >Events</text>
<rect x="402.50" y="400.80" width="6.20" height="6.20" fill="#5EEEFF" stroke="rgba(0,0,0,0.55)" stroke-width="0.5"/>
<text x="411.00" y="407.20" font-size="9.8" text-anchor="start" font-weight="normal" fill="#222" >Induction therapy</text>
<rect x="402.50" y="413.50" width="6.20" height="6.20" fill="#0A3A8E" stroke="rgba(0,0,0,0.55)" stroke-width="0.5"/>
<text x="411.00" y="419.90" font-size="8.35" text-anchor="start" font-weight="normal" fill="#222" >Consolidation therapy</text>
<rect x="402.50" y="428.60" width="6.20" height="6.20" fill="#BB88FF" stroke="rgba(0,0,0,0.55)" stroke-width="0.5"/>
<text x="411.00" y="435.00" font-size="8.0" text-anchor="start" font-weight="normal" fill="#222" >Duration between induction</text>
<rect x="402.50" y="450.60" width="6.20" height="6.20" fill="#561D12" stroke="rgba(0,0,0,0.55)" stroke-width="0.5"/>
<text x="411.00" y="457.00" font-size="8.35" text-anchor="start" font-weight="normal" fill="#222" >Adjuvant ICIs</text>
<rect x="402.50" y="463.40" width="6.20" height="6.20" fill="#0A4A2A" stroke="rgba(0,0,0,0.55)" stroke-width="0.5"/>
<text x="411.00" y="469.80" font-size="8.35" text-anchor="start" font-weight="normal" fill="#222" >Adjuvant chemotherapy</text>
<rect x="402.50" y="476.10" width="6.20" height="6.20" fill="#B00015" stroke="rgba(0,0,0,0.55)" stroke-width="0.5"/>
<text x="411.00" y="482.50" font-size="8.35" text-anchor="start" font-weight="normal" fill="#222" >Adjuvant ICIs + chemotherapy</text>
<rect x="402.50" y="489.60" width="6.20" height="6.20" fill="#BFCC96" stroke="rgba(0,0,0,0.55)" stroke-width="0.5"/>
<text x="411.00" y="496.00" font-size="8.35" text-anchor="start" font-weight="normal" fill="#222" >Systematic therapy by MDT</text>
<rect x="402.50" y="502.50" width="6.20" height="6.20" fill="#A57B50" stroke="rgba(0,0,0,0.55)" stroke-width="0.5"/>
<text x="411.00" y="508.90" font-size="8.35" text-anchor="start" font-weight="normal" fill="#222" >Follow-up</text>
<text x="411.00" y="443.50" font-size="8.0" text-anchor="start" font-weight="normal" fill="#222" >therapy and surgery</text>
<text x="555.30" y="407.10" font-size="8.35" text-anchor="start" font-weight="normal" fill="#222" >Disease progression</text>
<text x="555.30" y="420.20" font-size="8.35" text-anchor="start" font-weight="normal" fill="#222" >Death</text>
<text x="555.30" y="432.90" font-size="8.35" text-anchor="start" font-weight="normal" fill="#222" >Lost to follow-up</text>
<text x="555.30" y="446.00" font-size="8.35" text-anchor="start" font-weight="normal" fill="#222" >Last cycle of induced therapy</text>
<text x="555.30" y="459.10" font-size="8.35" text-anchor="start" font-weight="normal" fill="#222" >Surgery</text>
<text x="555.30" y="471.50" font-size="8.35" text-anchor="start" font-weight="normal" fill="#222" >Ongoing</text>
<text x="555.30" y="483.90" font-size="8.35" text-anchor="start" font-weight="normal" fill="#222" >Denial of ICIs maintenance</text>
<path d="M545.6 407.2 L548.8 401.4 L552.0 407.2 Z" fill="none" stroke="#333" stroke-width="0.7"/>
<circle cx="548.8" cy="417.6" r="3.3" fill="none" stroke="#333" stroke-width="0.7"/>
<path d="M545.5 417.6 H552.1 M548.8 414.3 V420.9" stroke="#333" stroke-width="0.7"/>
<circle cx="548.8" cy="430.3" r="3.3" fill="none" stroke="#333" stroke-width="0.7"/>
<path d="M545.5 430.3 H552.1" stroke="#333" stroke-width="0.7"/>
<path d="M549.5 439.8 V446.5 M547.8 444.3 L549.5 446.7 L551.2 444.3" fill="none" stroke="#222" stroke-width="0.8"/>
<path d="M549.8 453 V460 M548.8 454.5 L549.8 453 L550.8 454.5" fill="none" stroke="#888" stroke-width="0.7"/>
<path d="M546.8 468.5 H554.5 M552.3 466.8 L554.7 468.5 L552.3 470.2" fill="none" stroke="#222" stroke-width="0.8"/>
<path d="M549.5 477.3 V484" stroke="#888" stroke-width="0.8"/>
<text x="478.30" y="527.40" font-size="8.35" text-anchor="end" font-weight="normal" fill="#222" >Sex</text>
<rect x="498.30" y="521.20" width="6.00" height="5.80" fill="#CCE8FF" stroke="rgba(0,0,0,0.55)" stroke-width="0.5"/>
<text x="505.90" y="527.40" font-size="8.35" text-anchor="start" font-weight="normal" fill="#222" >Male</text>
<rect x="543.50" y="521.20" width="6.00" height="5.80" fill="#0066AA" stroke="rgba(0,0,0,0.55)" stroke-width="0.5"/>
<text x="551.00" y="527.40" font-size="8.35" text-anchor="start" font-weight="normal" fill="#222" >Female</text>
<text x="478.30" y="539.20" font-size="8.35" text-anchor="end" font-weight="normal" fill="#222" >Objective response</text>
<rect x="498.30" y="533.00" width="6.00" height="5.80" fill="#4DF4FF" stroke="rgba(0,0,0,0.55)" stroke-width="0.5"/>
<text x="505.90" y="539.20" font-size="8.35" text-anchor="start" font-weight="normal" fill="#222" >PR</text>
<rect x="543.50" y="533.00" width="6.00" height="5.80" fill="#FF6EB4" stroke="rgba(0,0,0,0.55)" stroke-width="0.5"/>
<text x="551.90" y="539.20" font-size="8.35" text-anchor="start" font-weight="normal" fill="#222" >SD</text>
<rect x="585.60" y="533.00" width="6.00" height="5.80" fill="#FBFFC0" stroke="rgba(0,0,0,0.55)" stroke-width="0.5"/>
<text x="594.50" y="539.20" font-size="8.35" text-anchor="start" font-weight="normal" fill="#222" >NR</text>
<text x="478.30" y="551.90" font-size="8.35" text-anchor="end" font-weight="normal" fill="#222" >Diagnostic TNM</text>
<rect x="498.30" y="545.70" width="6.00" height="5.80" fill="#F5F52A" stroke="rgba(0,0,0,0.55)" stroke-width="0.5"/>
<text x="505.90" y="551.90" font-size="8.35" text-anchor="start" font-weight="normal" fill="#222" >IIIA</text>
<rect x="543.50" y="545.70" width="6.00" height="5.80" fill="#D4FF5E" stroke="rgba(0,0,0,0.55)" stroke-width="0.5"/>
<text x="551.00" y="551.90" font-size="8.35" text-anchor="start" font-weight="normal" fill="#222" >IIIB</text>
<rect x="585.60" y="545.70" width="6.00" height="5.80" fill="#A8FF9F" stroke="rgba(0,0,0,0.55)" stroke-width="0.5"/>
<text x="594.90" y="551.90" font-size="8.35" text-anchor="start" font-weight="normal" fill="#222" >IIIC</text>
<text x="478.30" y="564.60" font-size="8.35" text-anchor="end" font-weight="normal" fill="#222" >Diagnostic N</text>
<rect x="498.30" y="558.40" width="6.00" height="5.80" fill="#FFE0DC" stroke="rgba(0,0,0,0.55)" stroke-width="0.5"/>
<text x="505.90" y="564.60" font-size="8.35" text-anchor="start" font-weight="normal" fill="#222" >N1</text>
<rect x="543.50" y="558.40" width="6.00" height="5.80" fill="#D07A6C" stroke="rgba(0,0,0,0.55)" stroke-width="0.5"/>
<text x="551.00" y="564.60" font-size="8.35" text-anchor="start" font-weight="normal" fill="#222" >N2</text>
<rect x="585.60" y="558.40" width="6.00" height="5.80" fill="#A31400" stroke="rgba(0,0,0,0.55)" stroke-width="0.5"/>
<text x="592.20" y="564.60" font-size="8.35" text-anchor="start" font-weight="normal" fill="#222" >N3</text>
<text x="478.30" y="576.90" font-size="8.35" text-anchor="end" font-weight="normal" fill="#222" >Smoking</text>
<rect x="498.30" y="570.70" width="6.00" height="5.80" fill="#E5E5E5" stroke="rgba(0,0,0,0.55)" stroke-width="0.5"/>
<text x="505.90" y="576.90" font-size="8.35" text-anchor="start" font-weight="normal" fill="#222" >Ever</text>
<rect x="543.50" y="570.70" width="6.00" height="5.80" fill="#3C3C3C" stroke="rgba(0,0,0,0.55)" stroke-width="0.5"/>
<text x="551.00" y="576.90" font-size="8.35" text-anchor="start" font-weight="normal" fill="#222" >Current</text>
<rect x="585.60" y="570.70" width="6.00" height="5.80" fill="#8CCC50" stroke="rgba(0,0,0,0.55)" stroke-width="0.5"/>
<text x="592.20" y="576.90" font-size="8.35" text-anchor="start" font-weight="normal" fill="#222" >Never</text>
<text x="478.30" y="589.00" font-size="8.35" text-anchor="end" font-weight="normal" fill="#222" >PD-L1 level</text>
<rect x="498.30" y="582.80" width="6.00" height="5.80" fill="#E040A0" stroke="rgba(0,0,0,0.55)" stroke-width="0.5"/>
<text x="505.90" y="589.00" font-size="8.35" text-anchor="start" font-weight="normal" fill="#222" >1%-49%</text>
<rect x="543.50" y="582.80" width="6.00" height="5.80" fill="#6E6EF5" stroke="rgba(0,0,0,0.55)" stroke-width="0.5"/>
<text x="554.20" y="589.00" font-size="8.35" text-anchor="start" font-weight="normal" fill="#222" >&lt;1%</text>
<rect x="585.60" y="582.80" width="6.00" height="5.80" fill="#CCE8FF" stroke="rgba(0,0,0,0.55)" stroke-width="0.5"/>
<text x="594.50" y="589.00" font-size="8.35" text-anchor="start" font-weight="normal" fill="#222" >Unknow</text>
<text x="478.30" y="600.60" font-size="8.35" text-anchor="end" font-weight="normal" fill="#222" >Induction treatment</text>
<rect x="498.30" y="594.40" width="6.00" height="5.80" fill="#00483A" stroke="rgba(0,0,0,0.55)" stroke-width="0.5"/>
<text x="505.90" y="600.60" font-size="8.35" text-anchor="start" font-weight="normal" fill="#222" >ICIs</text>
<rect x="543.50" y="594.40" width="6.00" height="5.80" fill="#0066EE" stroke="rgba(0,0,0,0.55)" stroke-width="0.5"/>
<text x="551.00" y="600.60" font-size="8.35" text-anchor="start" font-weight="normal" fill="#222" >ICIs + anti-VEGFR</text>
<text x="480.00" y="661.00" font-size="8.35" text-anchor="end" font-weight="normal" fill="#222" >Sex</text>
<rect x="498.30" y="653.90" width="4.50" height="8.40" fill="#CCE8FF" stroke="rgba(0,0,0,0.55)" stroke-width="0.5"/>
<text x="507.30" y="661.00" font-size="8.35" text-anchor="start" font-weight="normal" fill="#222" >Male</text>
<rect x="544.80" y="653.90" width="4.50" height="8.40" fill="#0066AA" stroke="rgba(0,0,0,0.55)" stroke-width="0.5"/>
<text x="551.50" y="661.00" font-size="8.35" text-anchor="start" font-weight="normal" fill="#222" >Female</text>
<text x="480.00" y="678.74" font-size="8.35" text-anchor="end" font-weight="normal" fill="#222" >Objective response</text>
<rect x="498.30" y="671.64" width="4.50" height="8.40" fill="#FF6EB4" stroke="rgba(0,0,0,0.55)" stroke-width="0.5"/>
<text x="507.30" y="678.74" font-size="8.35" text-anchor="start" font-weight="normal" fill="#222" >SD</text>
<rect x="544.80" y="671.64" width="4.50" height="8.40" fill="#4DF4FF" stroke="rgba(0,0,0,0.55)" stroke-width="0.5"/>
<text x="551.50" y="678.74" font-size="8.35" text-anchor="start" font-weight="normal" fill="#222" >PR</text>
<text x="480.00" y="696.48" font-size="8.35" text-anchor="end" font-weight="normal" fill="#222" >Diagnostic TNM</text>
<rect x="498.30" y="689.38" width="4.50" height="8.40" fill="#F5F52A" stroke="rgba(0,0,0,0.55)" stroke-width="0.5"/>
<text x="507.30" y="696.48" font-size="8.35" text-anchor="start" font-weight="normal" fill="#222" >IIIA</text>
<rect x="544.80" y="689.38" width="4.50" height="8.40" fill="#D4FF5E" stroke="rgba(0,0,0,0.55)" stroke-width="0.5"/>
<text x="551.50" y="696.48" font-size="8.35" text-anchor="start" font-weight="normal" fill="#222" >IIIB</text>
<rect x="590.70" y="689.38" width="4.50" height="8.40" fill="#A8FF9F" stroke="rgba(0,0,0,0.55)" stroke-width="0.5"/>
<text x="597.70" y="696.48" font-size="8.35" text-anchor="start" font-weight="normal" fill="#222" >IIIC</text>
<text x="480.00" y="714.22" font-size="8.35" text-anchor="end" font-weight="normal" fill="#222" >Diagnostic N</text>
<rect x="498.30" y="707.12" width="4.50" height="8.40" fill="#FFE0DC" stroke="rgba(0,0,0,0.55)" stroke-width="0.5"/>
<text x="507.30" y="714.22" font-size="8.35" text-anchor="start" font-weight="normal" fill="#222" >N1</text>
<rect x="544.80" y="707.12" width="4.50" height="8.40" fill="#D07A6C" stroke="rgba(0,0,0,0.55)" stroke-width="0.5"/>
<text x="551.50" y="714.22" font-size="8.35" text-anchor="start" font-weight="normal" fill="#222" >N2</text>
<rect x="590.70" y="707.12" width="4.50" height="8.40" fill="#A31400" stroke="rgba(0,0,0,0.55)" stroke-width="0.5"/>
<text x="597.70" y="714.22" font-size="8.35" text-anchor="start" font-weight="normal" fill="#222" >N3</text>
<text x="480.00" y="731.96" font-size="8.35" text-anchor="end" font-weight="normal" fill="#222" >Surgical approach</text>
<rect x="498.30" y="724.86" width="4.50" height="8.40" fill="#1AE0C8" stroke="rgba(0,0,0,0.55)" stroke-width="0.5"/>
<text x="507.30" y="731.96" font-size="8.35" text-anchor="start" font-weight="normal" fill="#222" >VATS</text>
<rect x="544.80" y="724.86" width="4.50" height="8.40" fill="#2E6B14" stroke="rgba(0,0,0,0.55)" stroke-width="0.5"/>
<text x="551.50" y="731.96" font-size="8.35" text-anchor="start" font-weight="normal" fill="#222" >Thoractomy</text>
<text x="480.00" y="749.70" font-size="8.35" text-anchor="end" font-weight="normal" fill="#222" >Histology</text>
<rect x="498.30" y="742.60" width="4.50" height="8.40" fill="#FF6E2A" stroke="rgba(0,0,0,0.55)" stroke-width="0.5"/>
<text x="507.30" y="749.70" font-size="8.35" text-anchor="start" font-weight="normal" fill="#222" >LUSC</text>
<rect x="544.80" y="742.60" width="4.50" height="8.40" fill="#FFEA99" stroke="rgba(0,0,0,0.55)" stroke-width="0.5"/>
<text x="551.50" y="749.70" font-size="8.35" text-anchor="start" font-weight="normal" fill="#222" >Non-LUSC</text>
<text x="480.00" y="767.44" font-size="8.35" text-anchor="end" font-weight="normal" fill="#222" >Smoking</text>
<rect x="498.30" y="760.34" width="4.50" height="8.40" fill="#E5E5E5" stroke="rgba(0,0,0,0.55)" stroke-width="0.5"/>
<text x="507.30" y="767.44" font-size="8.35" text-anchor="start" font-weight="normal" fill="#222" >Ever</text>
<rect x="544.80" y="760.34" width="4.50" height="8.40" fill="#3C3C3C" stroke="rgba(0,0,0,0.55)" stroke-width="0.5"/>
<text x="551.50" y="767.44" font-size="8.35" text-anchor="start" font-weight="normal" fill="#222" >Current</text>
<rect x="590.70" y="760.34" width="4.50" height="8.40" fill="#8CCC50" stroke="rgba(0,0,0,0.55)" stroke-width="0.5"/>
<text x="597.70" y="767.44" font-size="8.35" text-anchor="start" font-weight="normal" fill="#222" >Never</text>
<text x="480.00" y="785.18" font-size="8.35" text-anchor="end" font-weight="normal" fill="#222" >PD-L1 level</text>
<rect x="498.30" y="778.08" width="4.50" height="8.40" fill="#E040A0" stroke="rgba(0,0,0,0.55)" stroke-width="0.5"/>
<text x="507.30" y="785.18" font-size="8.35" text-anchor="start" font-weight="normal" fill="#222" >1%-49%</text>
<rect x="544.80" y="778.08" width="4.50" height="8.40" fill="#6E6EF5" stroke="rgba(0,0,0,0.55)" stroke-width="0.5"/>
<text x="551.50" y="785.18" font-size="8.35" text-anchor="start" font-weight="normal" fill="#222" >&lt;1%</text>
<rect x="590.70" y="778.08" width="4.50" height="8.40" fill="#CCE8FF" stroke="rgba(0,0,0,0.55)" stroke-width="0.5"/>
<text x="597.70" y="785.18" font-size="8.35" text-anchor="start" font-weight="normal" fill="#222" >Unknow</text>
<text x="480.00" y="802.92" font-size="8.35" text-anchor="end" font-weight="normal" fill="#222" >Induced treatment</text>
<rect x="498.30" y="795.82" width="4.50" height="8.40" fill="#00483A" stroke="rgba(0,0,0,0.55)" stroke-width="0.5"/>
<text x="507.30" y="802.92" font-size="8.35" text-anchor="start" font-weight="normal" fill="#222" >ICIs</text>
<rect x="544.80" y="795.82" width="4.50" height="8.40" fill="#0066EE" stroke="rgba(0,0,0,0.55)" stroke-width="0.5"/>
<text x="551.50" y="802.92" font-size="8.35" text-anchor="start" font-weight="normal" fill="#222" >ICIs + IBI-305</text>
</g></svg></body></html>
